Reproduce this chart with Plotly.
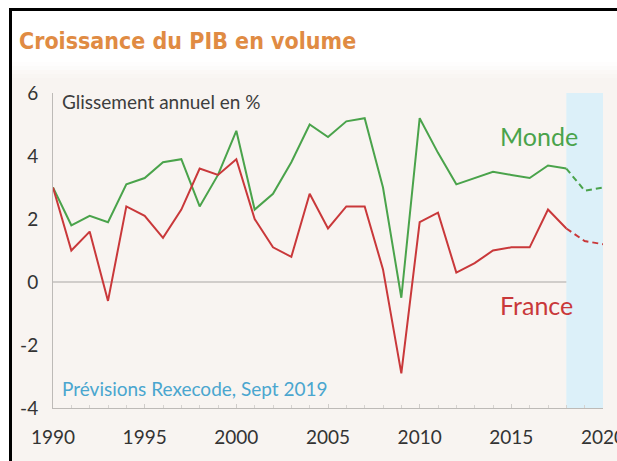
import plotly.graph_objects as go

# ---- data ----
years = list(range(1990, 2019))
france = [3.0, 1.0, 1.6, -0.6, 2.4, 2.1, 1.4, 2.3, 3.6, 3.4, 3.9, 2.0, 1.1, 0.8, 2.8,
          1.7, 2.4, 2.4, 0.4, -2.9, 1.9, 2.2, 0.3, 0.6, 1.0, 1.1, 1.1, 2.3, 1.7]
monde = [3.0, 1.8, 2.1, 1.9, 3.1, 3.3, 3.8, 3.9, 2.4, 3.4, 4.8, 2.3, 2.8, 3.8, 5.0,
         4.6, 5.1, 5.2, 3.0, -0.5, 5.2, 4.1, 3.1, 3.3, 3.5, 3.4, 3.3, 3.7, 3.6]
fc_years = [2018, 2019, 2020]
france_fc = [1.7, 1.3, 1.2]
monde_fc = [3.6, 2.9, 3.0]
x_ticks = [1990, 1995, 2000, 2005, 2010, 2015, 2020]
y_ticks = [-4, -2, 0, 2, 4, 6]

RED = "#c9383a"
GREEN = "#4aa34b"
BG = "#f8f4f1"

fig = go.Figure()
fig.add_trace(go.Scatter(x=years, y=monde, mode="lines", line=dict(color=GREEN, width=2), showlegend=False))
fig.add_trace(go.Scatter(x=fc_years, y=monde_fc, mode="lines", line=dict(color=GREEN, width=2, dash="6px,4px"), showlegend=False))
fig.add_trace(go.Scatter(x=years, y=france, mode="lines", line=dict(color=RED, width=2), showlegend=False))
fig.add_trace(go.Scatter(x=fc_years, y=france_fc, mode="lines", line=dict(color=RED, width=2, dash="6px,4px"), showlegend=False))

L, R, T, B = 53, 14, 93, 53
W, H = 617, 461
pw, ph = W - L - R, H - T - B


def px(xp):
    return (xp - L) / pw


def py(yp):
    return (H - B - yp) / ph


shapes = []
# white area outside the frame
shapes.append(dict(type="rect", xref="paper", yref="paper", x0=px(-5), x1=px(W + 5), y0=py(10), y1=py(-5),
                   fillcolor="white", line=dict(width=0), layer="below"))
shapes.append(dict(type="rect", xref="paper", yref="paper", x0=px(-5), x1=px(10), y0=py(H + 5), y1=py(-5),
                   fillcolor="white", line=dict(width=0), layer="below"))
# white title band with soft fade into beige
shapes.append(dict(type="rect", xref="paper", yref="paper", x0=px(10), x1=px(W + 5), y0=py(62), y1=py(10),
                   fillcolor="white", line=dict(width=0), layer="below"))
fade = ["#fefdfd", "#fcfbfa", "#fbf8f6", "#f9f6f3"]
for i, c in enumerate(fade):
    shapes.append(dict(type="rect", xref="paper", yref="paper", x0=px(10), x1=px(W + 5),
                       y0=py(62 + 4 * (i + 1)), y1=py(62 + 4 * i), fillcolor=c, line=dict(width=0), layer="below"))
# forecast shading
shapes.append(dict(type="rect", xref="x", yref="y", x0=2018, x1=2020, y0=-4, y1=6,
                   fillcolor="#dcf0f9", line=dict(width=0), layer="below"))
# zero line
shapes.append(dict(type="line", xref="paper", yref="y", x0=0, x1=1, y0=0, y1=0,
                   line=dict(color="#a9a6a4", width=1), layer="below"))
# black frame
shapes.append(dict(type="line", xref="paper", yref="paper", x0=px(10.5), x1=px(10.5), y0=py(9), y1=py(H + 5),
                   line=dict(color="black", width=3)))
shapes.append(dict(type="line", xref="paper", yref="paper", x0=px(9), x1=px(W + 5), y0=py(9.5), y1=py(9.5),
                   line=dict(color="black", width=3)))

annotations = [
    dict(text="Croissance du PIB en volume", xref="paper", yref="paper", x=px(17), y=py(41),
         xanchor="left", yanchor="middle", showarrow=False,
         font=dict(family="DejaVu Sans Condensed, Liberation Sans Narrow, Roboto Condensed, sans-serif",
                   size=23, color="#e08b43", weight="bold")),
    dict(text="Glissement annuel en %", xref="paper", yref="paper", x=px(60), y=py(101),
         xanchor="left", yanchor="middle", showarrow=False,
         font=dict(family="Lato", size=19, color="#3d3d3d")),
    dict(text="Monde", xref="x", yref="y", x=2016.5, y=4.65, xanchor="center", yanchor="middle",
         showarrow=False, font=dict(family="Lato", size=25, color=GREEN)),
    dict(text="France", xref="x", yref="y", x=2016.35, y=-0.73, xanchor="center", yanchor="middle",
         showarrow=False, font=dict(family="Lato", size=25, color=RED)),
    dict(text="Prévisions Rexecode, Sept 2019", xref="paper", yref="paper", x=px(60), y=py(388),
         xanchor="left", yanchor="middle", showarrow=False,
         font=dict(family="Lato", size=19, color="#4aa6cf")),
]

fig.update_layout(
    width=W, height=H, autosize=False,
    margin=dict(l=L, r=R, t=T, b=B, pad=0, autoexpand=False),
    paper_bgcolor=BG, plot_bgcolor=BG,
    shapes=shapes, annotations=annotations,
    font=dict(family="Lato", size=19, color="#333333"),
)
fig.update_xaxes(range=[1990, 2020], tickvals=x_ticks, ticktext=[str(v) for v in x_ticks],
                 showgrid=False, zeroline=False, showline=True, linecolor="#bdbab7", linewidth=1,
                 ticks="inside", ticklen=4, tickcolor="#cfccc9", ticklabelstandoff=12,
                 ticklabeloverflow="allow", automargin=False,
                 minor=dict(dtick=1, ticks="inside", ticklen=3, tickcolor="#d6d3d0"),
                 tickfont=dict(family="Lato", size=19, color="#333333"), fixedrange=True)
fig.update_yaxes(range=[-4, 6], tickvals=y_ticks, ticktext=[str(v) for v in y_ticks],
                 showgrid=False, zeroline=False, showline=True, linecolor="#bdbab7", linewidth=1,
                 ticks="", ticklabelstandoff=10, automargin=False,
                 tickfont=dict(family="Lato", size=19, color="#333333"), fixedrange=True)

fig.write_html("out.html", config={"displayModeBar": False},
               post_script="document.body.style.margin='0';document.body.style.overflow='hidden';")
